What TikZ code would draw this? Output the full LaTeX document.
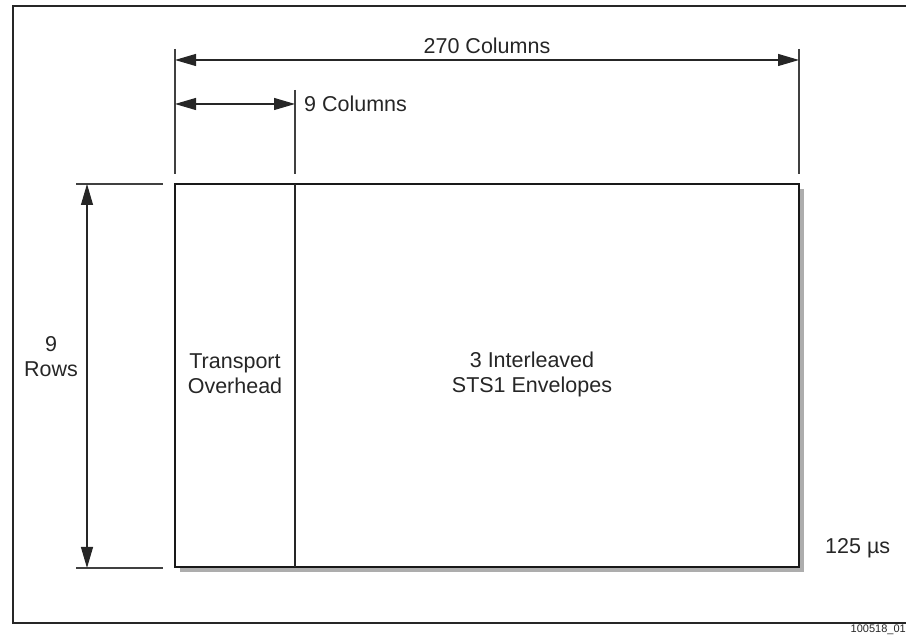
\documentclass[tikz,border=0pt]{standalone}
\usepackage{fontspec}
\setmainfont{Liberation Sans}
\usetikzlibrary{arrows.meta}
\begin{document}
\begin{tikzpicture}[x=1pt,y=1pt,
  lbl/.style={inner sep=0pt,font=\fontsize{21.5}{25}\selectfont,align=center,text=black!85},
  extline/.style={draw=black!75,line width=1.1pt},
  dimarrow/.style={draw=black!85,line width=1.1pt,{Triangle[length=21pt,width=12pt]}-{Triangle[length=21pt,width=12pt]}},
  framebox/.style={draw=black!85,line width=2pt},
  mainbox/.style={draw=black!90,line width=2.6pt},
  shadowbox/.style={fill=black!32,draw=none}]
\useasboundingbox (0,0) rectangle (906,637);
% outer frame
\coordinate (fTR) at (908,631);
\coordinate (fTL) at (13,631);
\coordinate (fBL) at (13,14);
\coordinate (fBR) at (908,14);
\draw[framebox] (fTR) -- (fTL) -- (fBL) -- (fBR);
% main box with shadow
\coordinate (bTL) at (175,453);
\coordinate (bBR) at (799,70);
\fill[shadowbox] (180,65) rectangle (804,448);
\fill[white] (bTL) rectangle (bBR);
\draw[mainbox] (bTL) rectangle (bBR);
\coordinate (dT) at (295,453);
\coordinate (dB) at (295,70);
\draw[draw=black!85,line width=1.3pt] (dT) -- (dB);
% top extension lines
\coordinate (e1a) at (175,588); \coordinate (e1b) at (175,463);
\coordinate (e2a) at (799,588); \coordinate (e2b) at (799,463);
\coordinate (e3a) at (295,547); \coordinate (e3b) at (295,463);
\draw[extline] (e1a) -- (e1b);
\draw[extline] (e2a) -- (e2b);
\draw[extline] (e3a) -- (e3b);
% top dimension arrows
\coordinate (a1l) at (175,577); \coordinate (a1r) at (799,577);
\draw[dimarrow] (a1l) -- (a1r);
\coordinate (a2l) at (175,533); \coordinate (a2r) at (295,533);
\draw[dimarrow] (a2l) -- (a2r);
% left extension lines
\coordinate (l1a) at (76,453); \coordinate (l1b) at (163,453);
\coordinate (l2a) at (76,69); \coordinate (l2b) at (163,69);
\draw[extline] (l1a) -- (l1b);
\draw[extline] (l2a) -- (l2b);
\coordinate (vt) at (87,453); \coordinate (vb) at (87,69);
\draw[dimarrow] (vt) -- (vb);
% labels
\node[lbl] (t270) at (487,591) {270 Columns};
\node[lbl,anchor=west] (t9c) at (304,533) {9 Columns};
\node[lbl] (t9r) at (51,280) {9\\Rows};
\node[lbl] (tto) at (235,263) {Transport\\Overhead};
\node[lbl] (tsts) at (532,263) {3 Interleaved\\STS1 Envelopes};
\node[lbl,anchor=west] (t125) at (825,89) {125 µs};
\node[inner sep=0pt,font=\fontsize{11}{13}\selectfont,anchor=east,text=black!85] (tid) at (906,7) {100518\_01};
\end{tikzpicture}
\end{document}
